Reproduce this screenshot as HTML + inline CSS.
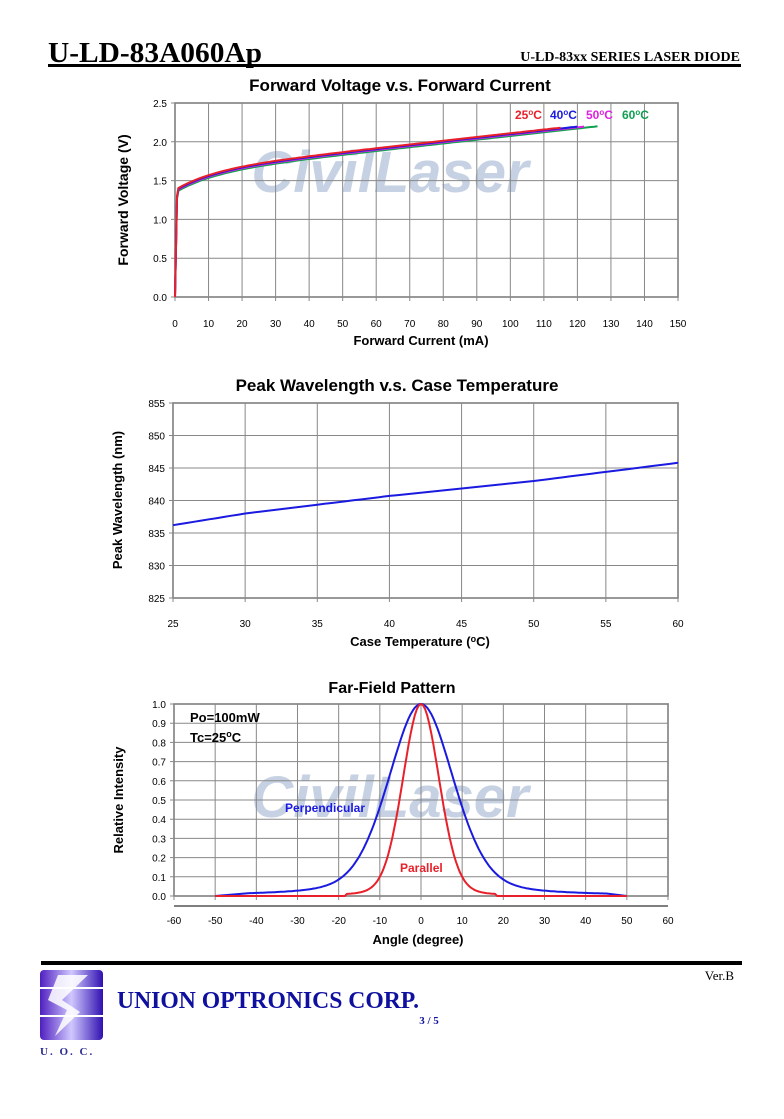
<!DOCTYPE html>
<html><head><meta charset="utf-8"><style>
html,body{margin:0;padding:0;background:#fff;}
svg{display:block;}
</style></head><body>
<svg id="s" width="784" height="1119" viewBox="0 0 784 1119" xmlns="http://www.w3.org/2000/svg" font-family="Liberation Sans, sans-serif">
<!-- header -->
<text x="48" y="62" font-family="Liberation Serif, serif" font-weight="bold" font-size="29" textLength="214" lengthAdjust="spacingAndGlyphs">U-LD-83A060Ap</text>
<text x="740" y="61" text-anchor="end" font-family="Liberation Serif, serif" font-weight="bold" font-size="14">U-LD-83xx SERIES LASER DIODE</text>
<rect x="48" y="64" width="693" height="3" fill="#000"/>

<!-- chart 1 -->
<text x="400" y="91" text-anchor="middle" font-weight="bold" font-size="17">Forward Voltage v.s. Forward Current</text>
<text x="390" y="192" text-anchor="middle" font-weight="bold" font-style="italic" font-size="58" fill="#b4c4da" opacity="0.75">CivilLaser</text>
<g id="g1"></g>
<text x="421" y="345" text-anchor="middle" font-weight="bold" font-size="13">Forward Current (mA)</text>
<text transform="translate(128,200) rotate(-90)" text-anchor="middle" font-weight="bold" font-size="14">Forward Voltage (V)</text>
<g font-weight="bold" font-size="12">
<text x="515" y="119" fill="#e8202a">25<tspan dy="-4" font-size="8">o</tspan><tspan dy="4">C</tspan></text>
<text x="550" y="119" fill="#1a1ae0">40<tspan dy="-4" font-size="8">o</tspan><tspan dy="4">C</tspan></text>
<text x="586" y="119" fill="#e020e0">50<tspan dy="-4" font-size="8">o</tspan><tspan dy="4">C</tspan></text>
<text x="622" y="119" fill="#10a050">60<tspan dy="-4" font-size="8">o</tspan><tspan dy="4">C</tspan></text>
</g>

<!-- chart 2 -->
<text x="397" y="391" text-anchor="middle" font-weight="bold" font-size="17">Peak Wavelength v.s. Case Temperature</text>
<g id="g2"></g>
<text x="420" y="646" text-anchor="middle" font-weight="bold" font-size="13">Case Temperature (<tspan dy="-4" font-size="9">o</tspan><tspan dy="4">C)</tspan></text>
<text transform="translate(122,500) rotate(-90)" text-anchor="middle" font-weight="bold" font-size="13">Peak Wavelength (nm)</text>

<!-- chart 3 -->
<text x="392" y="693" text-anchor="middle" font-weight="bold" font-size="16">Far-Field Pattern</text>
<text x="390" y="817" text-anchor="middle" font-weight="bold" font-style="italic" font-size="58" fill="#b4c4da" opacity="0.75">CivilLaser</text>
<g id="g3"></g>
<text x="418" y="944" text-anchor="middle" font-weight="bold" font-size="13">Angle (degree)</text>
<text transform="translate(123,800) rotate(-90)" text-anchor="middle" font-weight="bold" font-size="13">Relative Intensity</text>
<text x="190" y="722" font-weight="bold" font-size="13">Po=100mW</text>
<text x="190" y="742" font-weight="bold" font-size="13">Tc=25<tspan dy="-5" font-size="9">o</tspan><tspan dy="5">C</tspan></text>
<text x="285" y="812" font-weight="bold" font-size="12" fill="#1a1ae0">Perpendicular</text>
<text x="400" y="872" font-weight="bold" font-size="12" fill="#e8202a">Parallel</text>

<!-- footer -->
<rect x="41" y="961" width="701" height="4" fill="#000"/>
<text x="734" y="980" text-anchor="end" font-family="Liberation Serif, serif" font-size="13">Ver.B</text>
<defs><linearGradient id="lg" x1="0" x2="1"><stop offset="0" stop-color="#5020c0"/><stop offset="0.5" stop-color="#d0c8ff"/><stop offset="1" stop-color="#3010b0"/></linearGradient></defs>
<rect x="40" y="970" width="63" height="70" rx="4" fill="url(#lg)"/>
<polygon points="58,975 88,975 62,1000 80,1012 55,1036 67,1010 48,1000" fill="#fff" opacity="0.85"/>
<rect x="40" y="987" width="63" height="2" fill="#fff"/><rect x="40" y="1015" width="63" height="2" fill="#fff"/>
<text x="40" y="1055" font-family="Liberation Serif, serif" font-weight="bold" font-size="11" fill="#2a2a90" letter-spacing="2">U. O. C.</text>
<text x="117" y="1008" font-family="Liberation Serif, serif" font-weight="bold" font-size="24" fill="#1010a0" textLength="302" lengthAdjust="spacingAndGlyphs">UNION OPTRONICS CORP.</text>
<text x="429" y="1024" text-anchor="middle" font-family="Liberation Serif, serif" font-weight="bold" font-size="11" fill="#1010a0">3 / 5</text>
</svg>
<script>
var NS="http://www.w3.org/2000/svg";
function el(p,t,a,txt){var e=document.createElementNS(NS,t);for(var k in a)e.setAttribute(k,a[k]);if(txt!==undefined)e.textContent=txt;p.appendChild(e);return e;}
function axes(g,L,R,T,B,xt,yt,xf,yf,fs,xoff,dec){
 el(g,"rect",{x:L,y:T,width:R-L,height:B-T,fill:"none",stroke:"#555","stroke-width":1.5});
 xt.forEach(function(v){var x=xf(v);el(g,"line",{x1:x,x2:x,y1:T,y2:B+4,stroke:"#888","stroke-width":1});el(g,"text",{x:x,y:B+xoff,"text-anchor":"middle","font-size":fs},String(v));});
 yt.forEach(function(v){var y=yf(v);el(g,"line",{x1:L-4,x2:R,y1:y,y2:y,stroke:"#888","stroke-width":1});el(g,"text",{x:L-8,y:y+4,"text-anchor":"end","font-size":fs},dec?v.toFixed(1):String(v));});
}
function line(g,pts,c,w){el(g,"polyline",{points:pts.map(function(p){return p[0].toFixed(1)+","+p[1].toFixed(1)}).join(" "),fill:"none",stroke:c,"stroke-width":w||2,"stroke-linejoin":"round"});}
// chart1
(function(){var g=document.getElementById("g1");var L=175,R=678,T=103,B=297;
var xf=function(v){return L+(R-L)*v/150},yf=function(v){return B-(B-T)*v/2.5};
var xt=[];for(var i=0;i<=150;i+=10)xt.push(i);
axes(g,L,R,T,B,xt,[0,0.5,1.0,1.5,2.0,2.5],xf,yf,10,30,true);
var S=[["#10a050",-0.035,126],["#e020e0",-0.02,122],["#1a1ae0",-0.01,120],["#e8202a",0,115]];
S.forEach(function(s){var p=[[xf(0),yf(0)],[xf(0.6),yf(1.3+s[1])]];for(var I=1;I<=s[2];I+=1){p.push([xf(I),yf(1.38+0.0048*I+0.25*(1-Math.exp(-I/12))+s[1])]);}line(g,p,s[0],2);});
})();
// chart2
(function(){var g=document.getElementById("g2");var L=173,R=678,T=403,B=598;
var xf=function(v){return L+(R-L)*(v-25)/35},yf=function(v){return B-(B-T)*(v-825)/30};
axes(g,L,R,T,B,[25,30,35,40,45,50,55,60],[825,830,835,840,845,850,855],xf,yf,10,29,false);
var d=[[25,836.2],[30,838],[40,840.7],[50,843],[60,845.8]];var p=[];
for(var t=25;t<=60;t+=0.5){var k=0;while(k<d.length-2&&t>d[k+1][0])k++;var a=d[k],b=d[k+1];p.push([xf(t),yf(a[1]+(b[1]-a[1])*(t-a[0])/(b[0]-a[0]))]);}
line(g,p,"#1a1ae0",2);
})();
// chart3
(function(){var g=document.getElementById("g3");var L=174,R=668,T=704,B=896;
var xf=function(v){return L+(R-L)*(v+60)/120},yf=function(v){return B-(B-T)*v};
axes(g,L,R,T,B,[-60,-50,-40,-30,-20,-10,0,10,20,30,40,50,60],[0,0.1,0.2,0.3,0.4,0.5,0.6,0.7,0.8,0.9,1.0],xf,yf,10,28,true);
el(g,"line",{x1:L,x2:R,y1:B+10,y2:B+10,stroke:"#555","stroke-width":1.5});
var p=[];for(var x=-42;x<=45;x+=0.5){var G=Math.exp(-x*x/(2*64)),Lz=1/(1+x*x/90);p.push([xf(x),yf(0.7*G+0.3*Lz)]);}
p.unshift([xf(-50),yf(0)]);p.push([xf(50),yf(0)]);
line(g,p,"#1a1ae0",2);
var q=[];for(var x=-50;x<=50;x+=0.5){var G=Math.exp(-x*x/(2*20)),Lz=1/(1+x*x/25);var v=0.85*G+0.15*Lz;if(Math.abs(x)>18)v=Math.max(0,v-0.02)*0.3;q.push([xf(x),yf(v)]);}
line(g,q,"#e8202a",2);
})();
</script>
</body></html>
